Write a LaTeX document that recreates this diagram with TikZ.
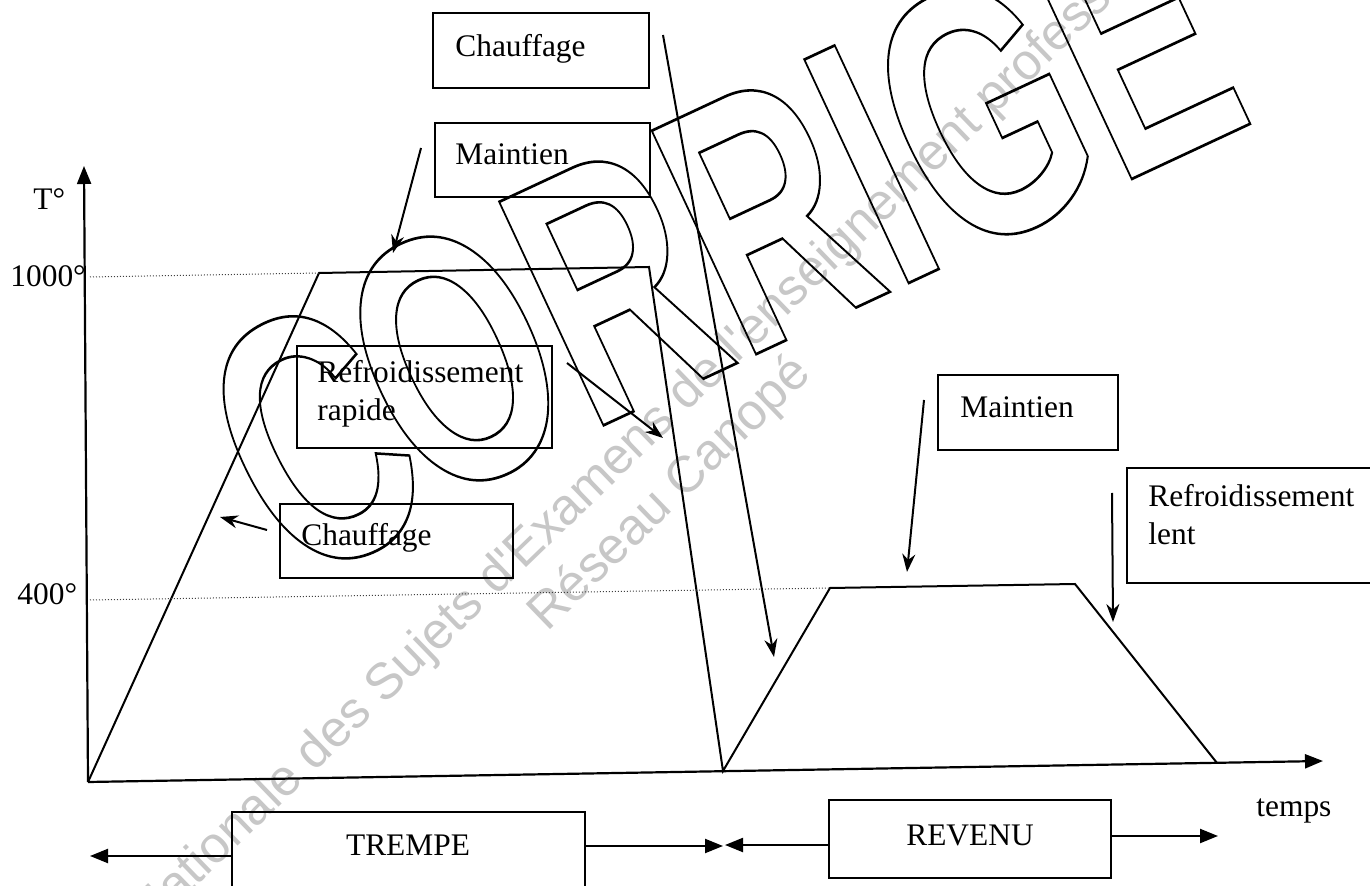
\documentclass[tikz,border=0pt]{standalone}
\usepackage{fontspec}
\setmainfont{Liberation Serif}
\newfontfamily\wmsans{Liberation Sans}
\usetikzlibrary{arrows.meta,fit}
\newcommand{\outlinetext}[1]{\special{pdf:literal direct 1 Tr 1.3 w}\scalebox{0.67}[1.03]{#1}\special{pdf:literal direct 0 Tr}}
\tikzset{
  box/.style={draw, line width=1pt, inner sep=0pt},
  lbl/.style={inner sep=0pt, font=\fontsize{15.7}{19}\selectfont},
  ptr/.style={line width=1pt, -{Stealth[length=9pt,width=6.5pt]}},
  axisarrow/.style={line width=1.1pt, -{Triangle[length=9pt,width=7pt]}},
  curve/.style={line width=1pt, line join=miter},
  guide/.style={densely dotted, line width=0.5pt, black!75},
  wm/.style={inner sep=0pt, text=black!22, font=\wmsans\fontsize{25.5}{30}\selectfont},
  bigwm/.style={inner sep=0pt, rotate=25, anchor=base west, font=\wmsans\bfseries\fontsize{174}{174}\selectfont}
}
\begin{document}
\begin{tikzpicture}[x=0.5pt,y=-0.5pt]
\useasboundingbox (0,0) rectangle (1370,886);
\clip (0,0) rectangle (1370,886);
\fill[white] (0,0) rectangle (1370,886);

% faint watermark text
\node[wm, rotate=44, anchor=base] (wm1) at (634,464) {Base Nationale des Sujets d'Examens de l'enseignement professionnel};
\node[wm, rotate=44, anchor=base] (wm2) at (680,504) {Réseau Canopé};

% outlined CORRIGE watermark
\node[bigwm, rotate=1.5] (corrC) at (294,588) {\outlinetext{C}};
\node[bigwm] (corrO) at (424.5,508.8) {\outlinetext{ORRIGE}};

% axes
\coordinate (O) at (88,782);
\coordinate (ytip) at (84,166);
\coordinate (xtip) at (1323,761);
\draw[axisarrow] (O) -- (ytip);
\draw[axisarrow] (O) -- (xtip);

% temperature curve
\coordinate (p1) at (319,273);
\coordinate (p2) at (649,267);
\coordinate (p3) at (723,771);
\coordinate (p4) at (830,588);
\coordinate (p5) at (1075,584);
\coordinate (p6) at (1217,763);
\draw[curve] (O) -- (p1) -- (p2) -- (p3) -- (p4) -- (p5) -- (p6);

% guide lines
\coordinate (g1) at (90,277);
\coordinate (g2) at (90,600);
\draw[guide] (g1) -- (p1);
\draw[guide] (g2) -- (p4);

% axis labels
\node[lbl, anchor=base west] (lT) at (33,210) {T°};
\node[lbl, anchor=base west] (l1000) at (10,287) {1000°};
\node[lbl, anchor=base west] (l400) at (17,605) {400°};
\node[lbl, anchor=base west] (ltemps) at (1256,816) {temps};

% boxes
\node[box, fit={(433,13) (649,88)}] (bA) {};
\node[lbl, anchor=base west] (tA) at (455,57) {Chauffage};
\node[box, fit={(435,123) (650,197)}] (bB) {};
\node[lbl, anchor=base west] (tB) at (455,165) {Maintien};
\node[box, fit={(297,346) (552,448)}] (bC) {};
\node[lbl, anchor=base west] (tC1) at (317,383) {Refroidissement};
\node[lbl, anchor=base west] (tC2) at (317,421) {rapide};
\node[box, fit={(280,504) (513,578)}] (bD) {};
\node[lbl, anchor=base west] (tD) at (301,546) {Chauffage};
\node[box, fit={(938,375) (1118,450)}] (bE) {};
\node[lbl, anchor=base west] (tE) at (960,418) {Maintien};
\node[box, fit={(1127,468) (1390,583)}] (bF) {};
\node[lbl, anchor=base west] (tF1) at (1148,507) {Refroidissement};
\node[lbl, anchor=base west] (tF2) at (1148,545) {lent};
\node[box, fit={(232,812) (585,900)}] (bG) {};
\node[lbl, anchor=base] (tG) at (408,855) {TREMPE};
\node[box, fit={(829,800) (1111,878)}] (bH) {};
\node[lbl, anchor=base] (tH) at (970,845) {REVENU};

% pointer arrows
\coordinate (a1s) at (663,35);   \coordinate (a1e) at (774,657);
\coordinate (a2s) at (421,148);  \coordinate (a2e) at (393,253);
\coordinate (a3s) at (567,363);  \coordinate (a3e) at (663,438);
\coordinate (a4s) at (267,530);  \coordinate (a4e) at (220,517);
\coordinate (a5s) at (924,400);  \coordinate (a5e) at (907,572);
\coordinate (a6s) at (1112,493); \coordinate (a6e) at (1113,622);
\draw[ptr] (a1s) -- (a1e);
\draw[ptr] (a2s) -- (a2e);
\draw[ptr] (a3s) -- (a3e);
\draw[ptr] (a4s) -- (a4e);
\draw[ptr] (a5s) -- (a5e);
\draw[ptr] (a6s) -- (a6e);

% phase arrows
\coordinate (tl) at (90,856);
\coordinate (tr) at (723,846);
\coordinate (rl) at (725,845);
\coordinate (rr) at (1218,836);
\draw[axisarrow] (tl -| bG.west) -- (tl);
\draw[axisarrow] (tr -| bG.east) -- (tr);
\draw[axisarrow] (rl -| bH.west) -- (rl);
\draw[axisarrow] (rr -| bH.east) -- (rr);
\end{tikzpicture}
\end{document}
